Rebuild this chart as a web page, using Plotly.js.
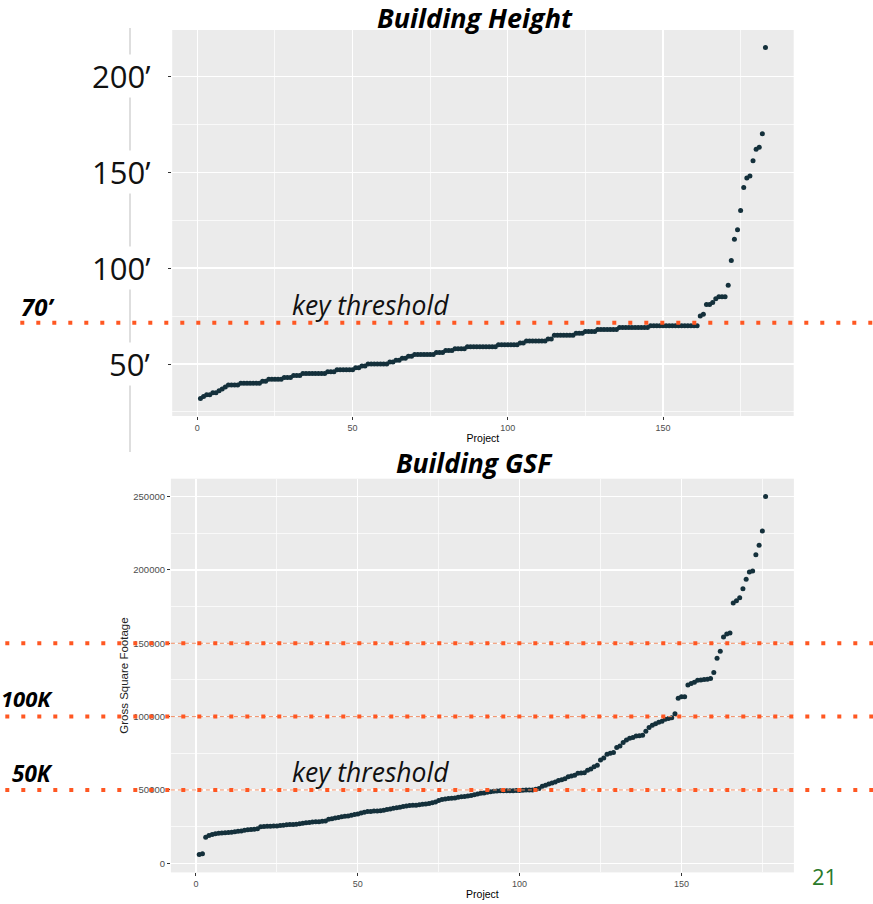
<!DOCTYPE html>
<html><head><meta charset="utf-8">
<script src="https://cdn.plot.ly/plotly-3.0.1.min.js"></script>
<style>html,body{margin:0;padding:0;background:#fff;}#chart{width:873px;height:904px;}</style>
</head><body><div id="chart"></div>
<script>
// ---------- DATA ----------
const heightValues = [
  32,33,34,34,35,35,36,37,38,39,
  39,39,39,40,40,40,40,40,40,40,
  41,41,42,42,42,42,42,43,43,43,
  44,44,44,45,45,45,45,45,45,45,
  45,46,46,46,47,47,47,47,47,47,
  48,48,49,49,50,50,50,50,50,50,
  50,51,51,52,52,53,53,54,54,55,
  55,55,55,55,55,55,56,56,56,57,
  57,57,58,58,58,58,59,59,59,59,
  59,59,59,59,59,59,60,60,60,60,
  60,60,60,61,61,62,62,62,62,62,
  62,62,63,63,65,65,65,65,65,65,
  65,66,66,66,67,67,67,67,68,68,
  68,68,68,68,68,69,69,69,69,69,
  69,69,69,69,69,70,70,70,70,70,
  70,70,70,70,70,70,70,70,70,70,
  70,75,76,81,81,82,84,85,85,85,
  91,104,115,120,130,142,147,148,156,162,
  163,170,215
];
const gsfValues = [
  6000,6500,17800,19000,19600,20200,20500,20700,20900,21000,
  21200,21500,21800,22100,22600,22800,23000,23300,23600,25000,
  25100,25200,25300,25400,25500,25700,25900,26200,26400,26500,
  26600,27000,27300,27600,27800,28200,28300,28400,28600,28900,
  30100,30400,30900,31300,31800,32000,32300,32700,33200,33600,
  34300,34800,35300,35400,35600,35700,35900,36200,36700,37000,
  37500,37800,38300,38700,39100,39400,39500,39600,39900,40300,
  40500,40800,41200,41800,42800,43500,43800,44100,44300,44600,
  45000,45300,45600,45900,46300,46800,47200,47700,48000,48400,
  48700,49100,49300,49500,49500,49500,49500,49500,49600,49700,
  49800,49900,50000,50000,50500,51000,52500,53200,54000,54800,
  55500,56400,57000,57700,59000,59600,60000,61400,61600,61800,
  63500,64300,65900,66800,70500,71800,74300,75000,75500,78900,
  80000,82300,84100,85200,85700,86800,87000,87300,90000,92500,
  94100,95200,96200,96800,98200,98800,99300,102000,112500,113600,
  113600,121600,122500,123500,124800,125000,125300,125500,126000,130000,
  139800,144500,154300,156300,157000,177500,179000,181000,187200,193600,
  198600,199300,210400,216800,226600,250000
];
const projectTickVals = [0, 50, 100, 150];
const projectTickText = ['0', '50', '100', '150'];
const projectMinorVals = [25, 75, 125, 175];
const heightTickVals = [50, 100, 150, 200];
const heightTickText = ['50’', '100’', '150’', '200’'];
const heightMinorVals = [25, 75, 125, 175];
const gsfTickVals = [0, 50000, 100000, 150000, 200000, 250000];
const gsfTickText = ['0', '50000', '100000', '150000', '200000', '250000'];
const gsfMinorVals = [25000, 75000, 125000, 175000, 225000];
const heightThresholdLine = 71.5;      // drawn "70’" line
const heightThresholdLabel = '70’';
const gsfThresholds = [50000, 100000, 150000];
const gsfThresholdLabels = ['50K', '100K'];
const titleTop = 'Building Height';
const titleBottom = 'Building GSF';
const xTitle = 'Project';
const yTitleBottom = 'Gross Square Footage';
const noteText = 'key threshold';
const pageNumber = '21';

// ---------- LAYOUT HELPERS ----------
const W = 873, H = 904;
const px = v => v / W;
const py = v => 1 - v / H;
const tickFont = {family: 'Liberation Sans, Arial, sans-serif', size: 9, color: '#4D4D4D'};
const slideFont = 'Open Sans, Noto Sans, sans-serif';
const orange = '#FF5722';

const idxH = heightValues.map((_, i) => i + 1);
const idxG = gsfValues.map((_, i) => i + 1);

const traces = [
  {x: idxH, y: heightValues, xaxis: 'x', yaxis: 'y', type: 'scatter', mode: 'markers',
   marker: {size: 5, color: '#14303B'}, hoverinfo: 'skip'},
  {x: idxG, y: gsfValues, xaxis: 'x2', yaxis: 'y2', type: 'scatter', mode: 'markers',
   marker: {size: 5, color: '#14303B'}, hoverinfo: 'skip'}
];

function xAxisCfg(domain, range, anchor) {
  return {
    domain, range, anchor, automargin: false,
    tickmode: 'array', tickvals: projectTickVals, ticktext: projectTickText,
    showgrid: true, gridcolor: '#FFFFFF', gridwidth: 1.2,
    minor: {tickmode: 'array', tickvals: projectMinorVals, showgrid: true, gridcolor: '#FFFFFF', gridwidth: 0.7, ticks: ''},
    zeroline: false, showline: false,
    ticks: 'outside', ticklen: 3, tickcolor: '#333333', tickwidth: 1,
    tickfont: tickFont,
    title: {text: xTitle, font: {family: 'Liberation Sans, Arial, sans-serif', size: 10.5, color: '#000'}, standoff: 2}
  };
}

const layout = {
  width: W, height: H,
  margin: {l: 0, r: 0, t: 0, b: 0},
  paper_bgcolor: '#FFFFFF', plot_bgcolor: '#EBEBEB',
  showlegend: false,
  xaxis: xAxisCfg([px(172.2), px(793.7)], [-8.1, 192.1], 'y'),
  yaxis: {
    domain: [py(416), py(30)], range: [22.9, 224.1], anchor: 'x', automargin: false,
    tickmode: 'array', tickvals: heightTickVals, ticktext: heightTickText, showticklabels: false,
    showgrid: true, gridcolor: '#FFFFFF', gridwidth: 1.2,
    minor: {tickmode: 'array', tickvals: heightMinorVals, showgrid: true, gridcolor: '#FFFFFF', gridwidth: 0.7, ticks: ''},
    zeroline: false, showline: false,
    ticks: 'outside', ticklen: 3, tickcolor: '#333333'
  },
  xaxis2: xAxisCfg([px(170.9), px(793.9)], [-7.75, 184.75], 'y2'),
  yaxis2: {
    domain: [py(872.4), py(478.7)], range: [-6200, 262200], anchor: 'x2', automargin: false,
    tickmode: 'array', tickvals: gsfTickVals, ticktext: gsfTickText,
    showgrid: true, gridcolor: '#FFFFFF', gridwidth: 1.2,
    minor: {tickmode: 'array', tickvals: gsfMinorVals, showgrid: true, gridcolor: '#FFFFFF', gridwidth: 0.7, ticks: ''},
    zeroline: false, showline: false,
    ticks: 'outside', ticklen: 3, tickcolor: '#333333',
    tickfont: {family: 'Liberation Sans, Arial, sans-serif', size: 9.5, color: '#4D4D4D'},
    title: {text: yTitleBottom, font: {family: 'Liberation Sans, Arial, sans-serif', size: 11.5, color: '#222'}, standoff: 2}
  },
  shapes: [],
  annotations: []
};

// vertical thin line behind the big labels
layout.shapes.push({type: 'line', xref: 'paper', yref: 'paper', x0: px(130), x1: px(130), y0: py(452), y1: py(28),
  line: {color: '#BDBDBD', width: 1}, layer: 'above'});
// top dotted threshold
layout.shapes.push({type: 'line', xref: 'paper', yref: 'y', x0: px(20.3), x1: 1, y0: heightThresholdLine, y1: heightThresholdLine,
  line: {color: orange, width: 4, dash: '4px,12px'}, layer: 'above'});
// bottom thresholds
gsfThresholds.forEach(v => {
  layout.shapes.push({type: 'line', xref: 'x2 domain', yref: 'y2', x0: 0, x1: 1, y0: v, y1: v,
    line: {color: '#F08A60', width: 1, dash: '4px,3px'}, layer: 'above'});
  layout.shapes.push({type: 'line', xref: 'paper', yref: 'y2', x0: px(5.3), x1: 1, y0: v, y1: v,
    line: {color: orange, width: 4, dash: '4px,12px'}, layer: 'above'});
});

// big height tick labels
heightTickVals.forEach((v, i) => {
  layout.annotations.push({xref: 'paper', yref: 'y', x: px(151), y: v, xanchor: 'right', yanchor: 'middle',
    text: heightTickText[i], showarrow: false, bgcolor: '#FFFFFF', borderpad: 0,
    font: {family: slideFont, size: 31, color: '#111'}});
});

const A = layout.annotations;
A.push({xref: 'paper', yref: 'paper', x: px(475), y: py(17), xanchor: 'center', yanchor: 'middle',
  text: '<b><i>' + titleTop + '</i></b>', showarrow: false, font: {family: slideFont, size: 27, color: '#000'}});
A.push({xref: 'paper', yref: 'paper', x: px(475), y: py(463), xanchor: 'center', yanchor: 'middle',
  text: '<b><i>' + titleBottom + '</i></b>', showarrow: false, font: {family: slideFont, size: 26.5, color: '#000'}});
A.push({xref: 'paper', yref: 'paper', x: px(56), y: py(306), xanchor: 'right', yanchor: 'middle',
  text: '<b><i>' + heightThresholdLabel + '</i></b>', showarrow: false, font: {family: slideFont, size: 24, color: '#000'}});
A.push({xref: 'paper', yref: 'paper', x: px(55), y: py(698), xanchor: 'right', yanchor: 'middle',
  text: '<b><i>' + gsfThresholdLabels[1] + '</i></b>', showarrow: false, font: {family: slideFont, size: 22, color: '#000'}});
A.push({xref: 'paper', yref: 'paper', x: px(55), y: py(773), xanchor: 'right', yanchor: 'middle',
  text: '<b><i>' + gsfThresholdLabels[0] + '</i></b>', showarrow: false, font: {family: slideFont, size: 22.5, color: '#000'}});
A.push({xref: 'paper', yref: 'paper', x: px(290), y: py(305), xanchor: 'left', yanchor: 'middle',
  text: '<i>' + noteText + '</i>', showarrow: false, font: {family: slideFont, size: 26.5, color: '#111'}});
A.push({xref: 'paper', yref: 'paper', x: px(290), y: py(772), xanchor: 'left', yanchor: 'middle',
  text: '<i>' + noteText + '</i>', showarrow: false, font: {family: slideFont, size: 26.5, color: '#111'}});
A.push({xref: 'paper', yref: 'paper', x: px(824), y: py(876), xanchor: 'center', yanchor: 'middle',
  text: pageNumber, showarrow: false, font: {family: slideFont, size: 22, color: '#2A7A2A'}});

Plotly.newPlot('chart', traces, layout, {staticPlot: true, displayModeBar: false});
</script>
</body></html>
